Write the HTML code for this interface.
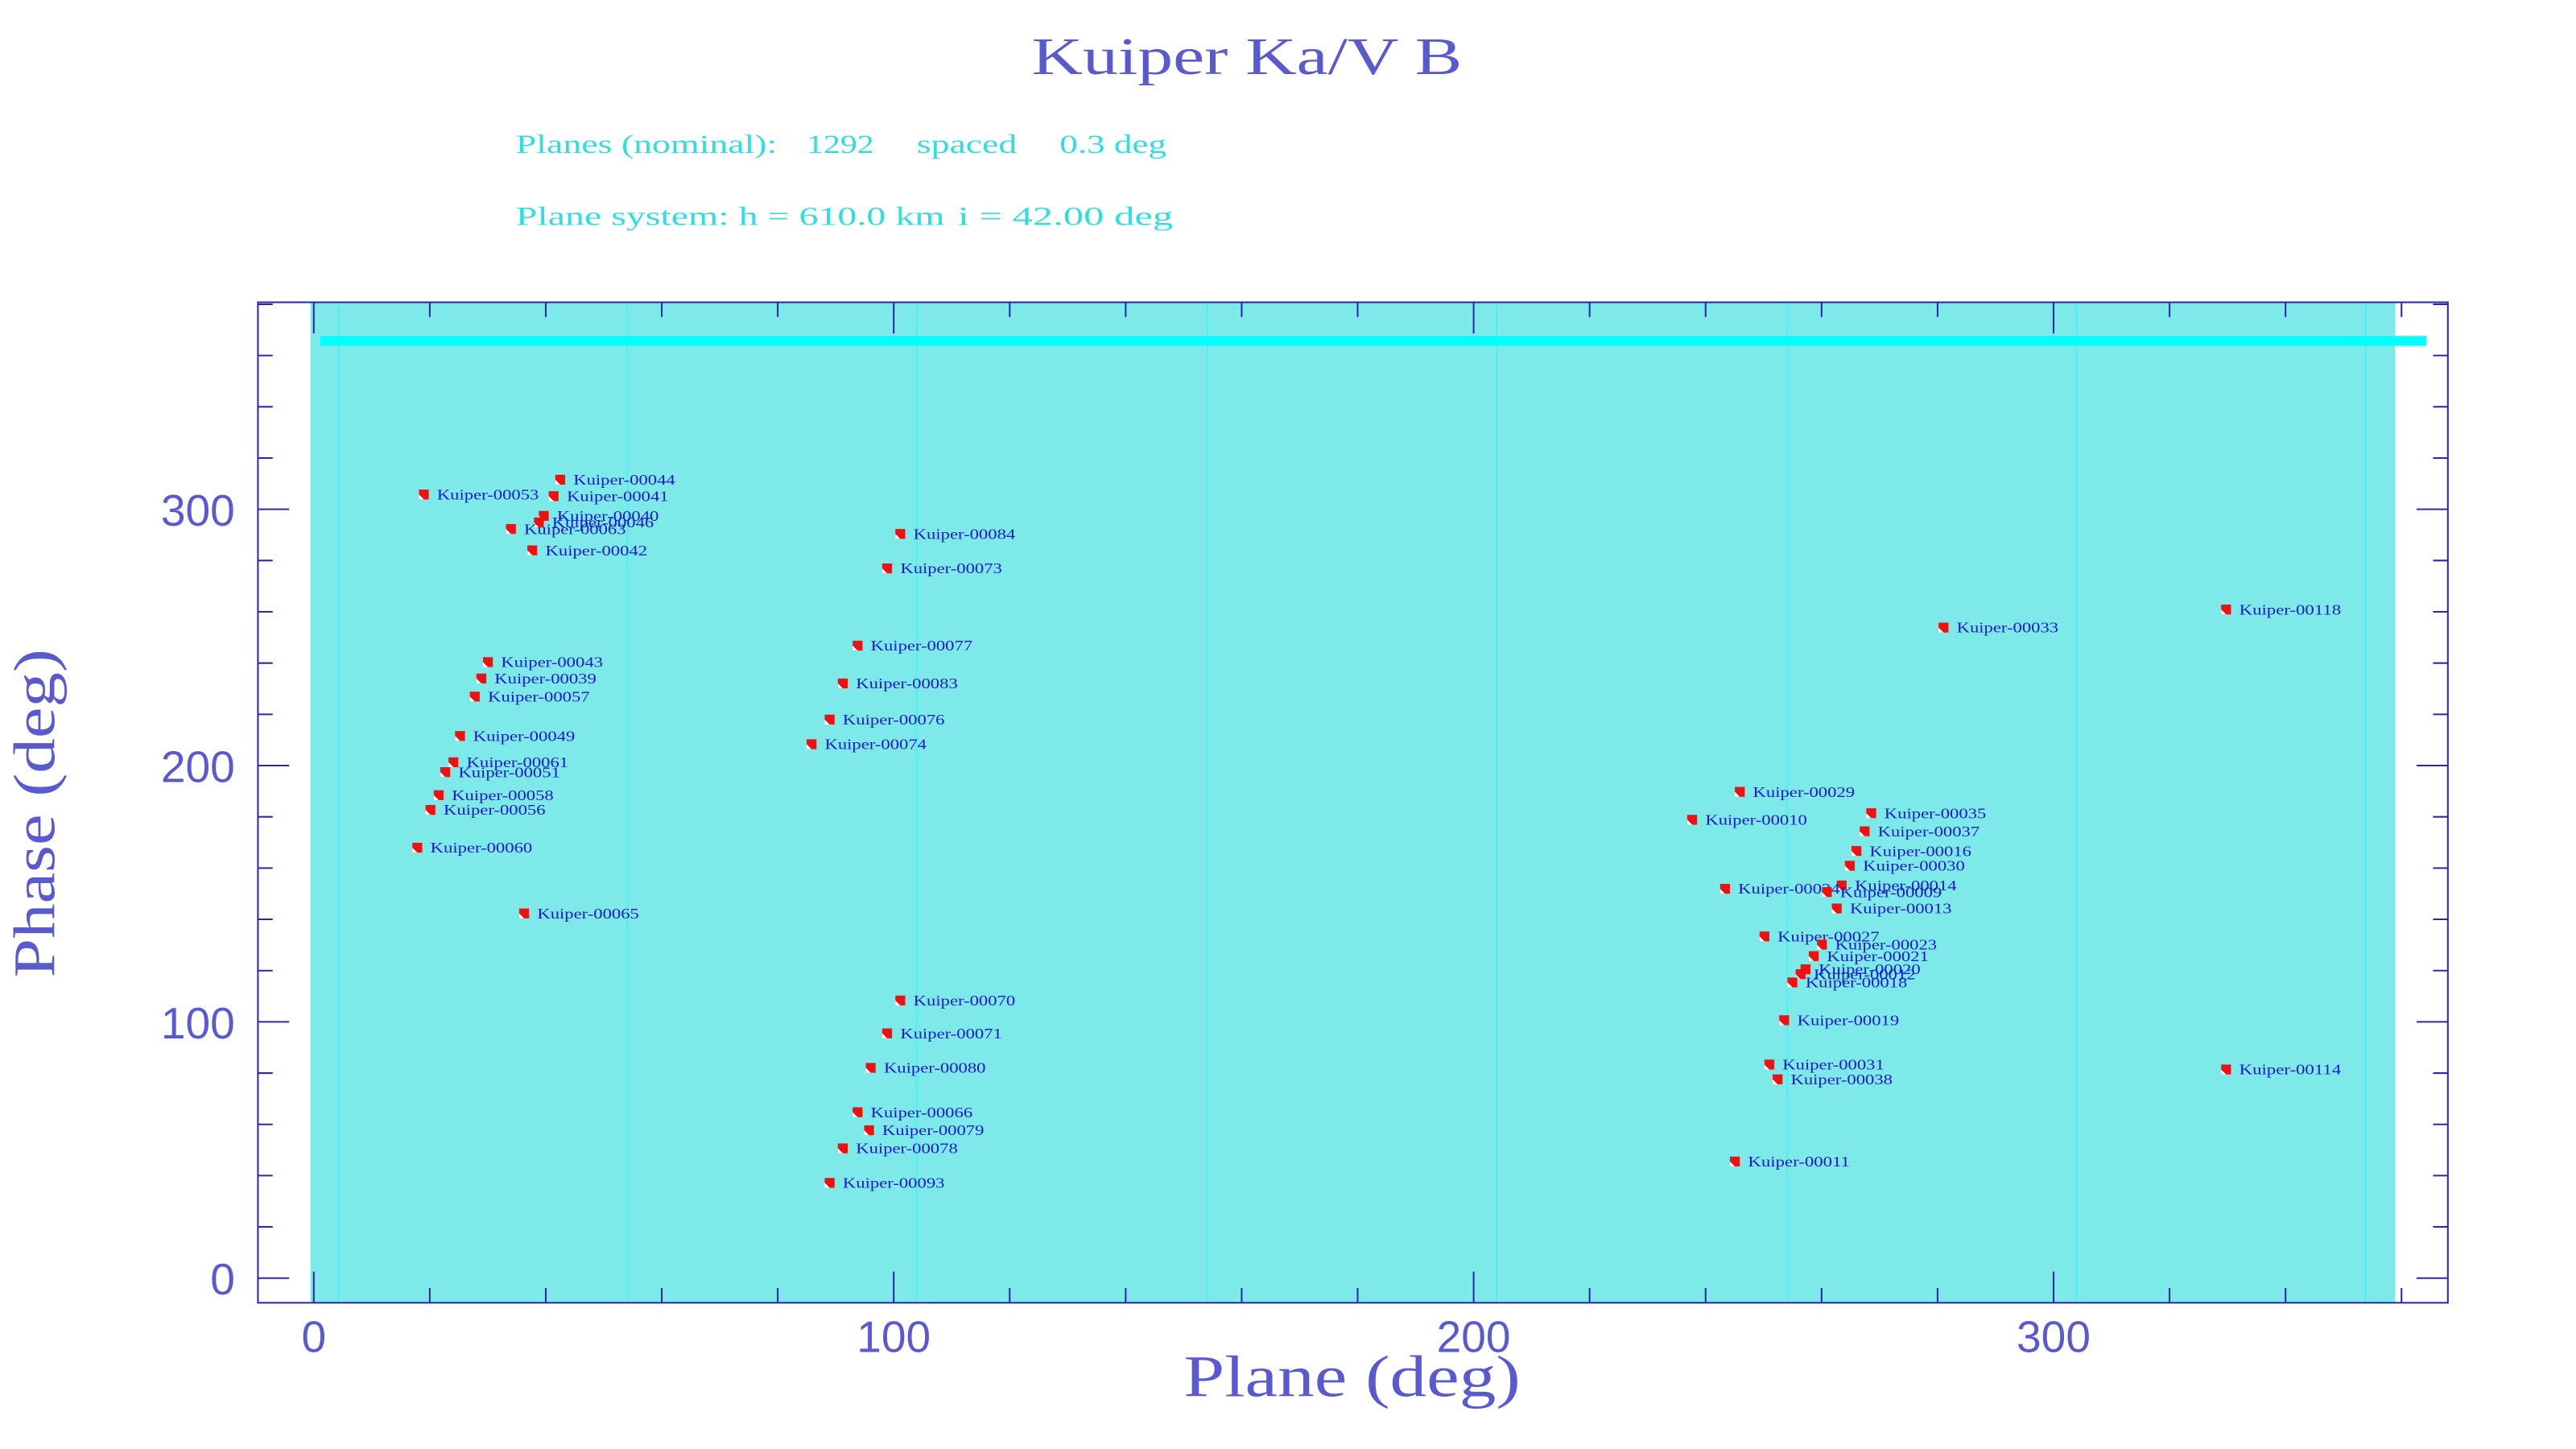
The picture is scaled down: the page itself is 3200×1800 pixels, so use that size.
<!DOCTYPE html>
<html><head><style>html,body{margin:0;padding:0;background:#fff}svg{display:block}</style></head>
<body>
<svg xmlns="http://www.w3.org/2000/svg" width="3200" height="1800" viewBox="0 0 1568 882">
<rect width="1568" height="882" fill="#fff"/>
<text x="759" y="45" text-anchor="middle" textLength="262" lengthAdjust="spacingAndGlyphs" font-family="Liberation Serif, serif" font-size="32" fill="#5a5ad0">Kuiper Ka/V B</text>
<g font-family="Liberation Serif, serif" font-size="16" fill="#33dddd" lengthAdjust="spacingAndGlyphs">
<text x="314" y="93" textLength="159" lengthAdjust="spacingAndGlyphs">Planes (nominal):</text>
<text x="491" y="93" textLength="41" lengthAdjust="spacingAndGlyphs">1292</text>
<text x="558" y="93" textLength="61" lengthAdjust="spacingAndGlyphs">spaced</text>
<text x="645" y="93" textLength="65" lengthAdjust="spacingAndGlyphs">0.3 deg</text>
<text x="314" y="137" textLength="261" lengthAdjust="spacingAndGlyphs">Plane system: h = 610.0 km</text>
<text x="583" y="137" textLength="131" lengthAdjust="spacingAndGlyphs">i = 42.00 deg</text>
</g>
<rect x="189" y="184" width="1269" height="609" fill="#7ee9e9"/>
<g stroke="#4cf0f0" stroke-width="1">
<line x1="206" y1="184" x2="206" y2="793"/><line x1="382" y1="184" x2="382" y2="793"/><line x1="558" y1="184" x2="558" y2="793"/><line x1="735" y1="184" x2="735" y2="793"/><line x1="911" y1="184" x2="911" y2="793"/><line x1="1088" y1="184" x2="1088" y2="793"/><line x1="1264" y1="184" x2="1264" y2="793"/><line x1="1440" y1="184" x2="1440" y2="793"/>
</g>
<rect x="195" y="204.5" width="1282" height="6" fill="#00ffff"/>
<rect x="157" y="184" width="1333" height="609" fill="none" stroke="#2a2aa8" stroke-width="1"/>
<g id="ticks" stroke="#2a2aa8" stroke-width="1"></g>
<g font-family="Liberation Sans, sans-serif" font-size="27" fill="#5a5ad0" text-anchor="middle">
<text x="191" y="823">0</text><text x="544" y="823">100</text><text x="897" y="823">200</text><text x="1250" y="823">300</text>
<text x="143" y="788" text-anchor="end">0</text>
<text x="143" y="632" text-anchor="end">100</text>
<text x="143" y="476" text-anchor="end">200</text>
<text x="143" y="320" text-anchor="end">300</text>
</g>
<text x="823" y="850" text-anchor="middle" textLength="205" lengthAdjust="spacingAndGlyphs" font-family="Liberation Serif, serif" font-size="36" fill="#5a5ad0">Plane (deg)</text>
<text transform="translate(33,495) rotate(-90)" text-anchor="middle" textLength="200" lengthAdjust="spacingAndGlyphs" font-family="Liberation Serif, serif" font-size="36" fill="#5a5ad0">Phase (deg)</text>
<g id="pts" font-family="Liberation Serif, serif" font-size="9" fill="#1a1ad0"></g>
<script>
var ns="http://www.w3.org/2000/svg",t=document.getElementById("ticks");
function L(a,b,c,d){var l=document.createElementNS(ns,"line");l.setAttribute("x1",a);l.setAttribute("y1",b);l.setAttribute("x2",c);l.setAttribute("y2",d);t.appendChild(l);}
for(var v=0;v<=380;v+=20){var y=778-1.56*v,m=(v%100==0)?19:9;L(157,y,157+m,y);L(1490,y,1490-m,y);}
for(var v=0;v<=360;v+=20){var x=191+3.53*v,m=(v%100==0)?19:9;L(x,793,x,793-m);L(x,184,x,184+m);}
var P=[["00044",341,292],["00053",258,301],["00041",337,302],["00040",331,314],["00046",328,318],["00063",311,322],["00042",324,335],["00043",297,403],["00039",293,413],["00057",289,424],["00049",280,448],["00061",276,464],["00051",271,470],["00058",267,484],["00056",262,493],["00060",254,516],["00065",319,556],["00084",548,325],["00073",540,346],["00077",522,393],["00083",513,416],["00076",505,438],["00074",494,453],["00070",548,609],["00071",540,629],["00080",530,650],["00066",522,677],["00079",529,688],["00078",513,699],["00093",505,720],["00033",1183,382],["00118",1355,371],["00114",1355,651],["00029",1059,482],["00010",1030,499],["00035",1139,495],["00037",1135,506],["00016",1130,518],["00030",1126,527],["00014",1121,539],["00024",1050,541],["00009",1112,543],["00013",1118,553],["00027",1074,570],["00023",1109,575],["00021",1104,582],["00020",1099,590],["00012",1096,593],["00018",1091,598],["00019",1086,621],["00031",1077,648],["00038",1082,657],["00011",1056,707]];
var g=document.getElementById("pts");
P.forEach(function(p){var x=p[1],y=p[2];
var r=document.createElementNS(ns,"rect");r.setAttribute("x",x-3);r.setAttribute("y",y-3);r.setAttribute("width",6);r.setAttribute("height",6);r.setAttribute("fill","#ee1111");g.appendChild(r);
var pl=document.createElementNS(ns,"polygon");pl.setAttribute("points",(x-3)+","+(y+3)+" "+(x-3)+","+(y)+" "+(x)+","+(y+3));pl.setAttribute("fill","#fff");g.appendChild(pl);
var tx=document.createElementNS(ns,"text");tx.setAttribute("x",x+8);tx.setAttribute("y",y+3);tx.setAttribute("textLength",62);tx.setAttribute("lengthAdjust","spacingAndGlyphs");tx.textContent="Kuiper-"+p[0];g.appendChild(tx);});
</script>
</svg>
</body></html>
